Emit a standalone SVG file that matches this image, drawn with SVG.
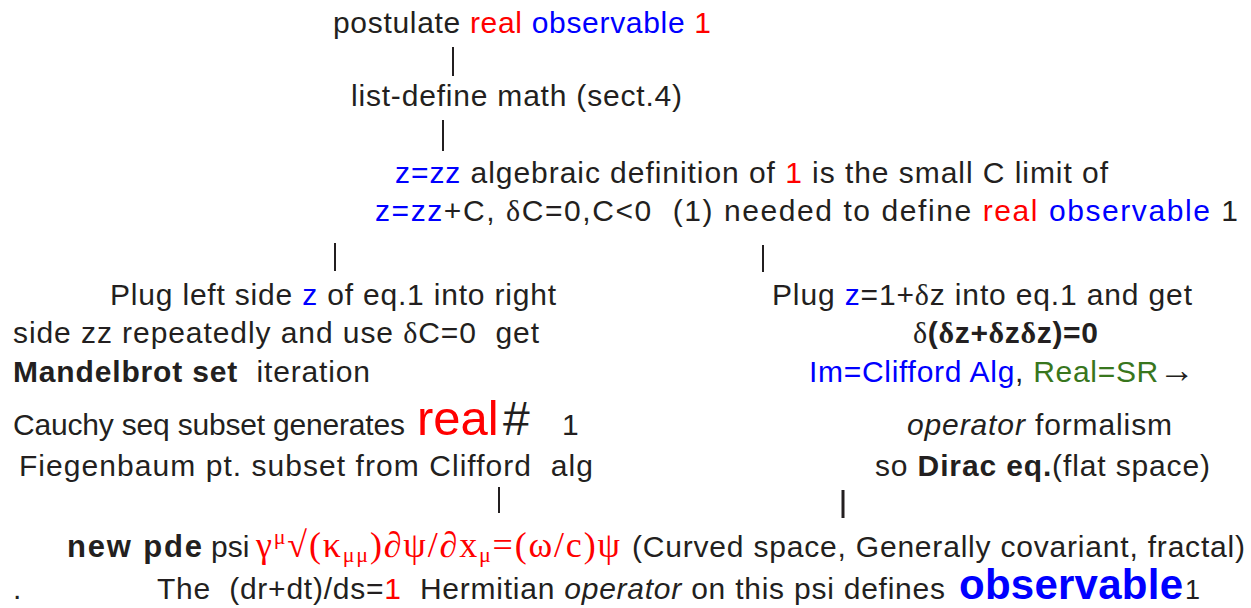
<svg xmlns="http://www.w3.org/2000/svg" width="1251" height="608" viewBox="0 0 1251 608">
<style>
text{font-family:"Liberation Sans",Arial,sans-serif;font-size:30px;fill:#231f20}
.r{fill:#ff0000}.b{fill:#0000ff}.g{fill:#38761d}.k{fill:#231f20}
.bd{font-weight:bold}.it{font-style:italic}
.sf{font-family:"Liberation Serif","Times New Roman",serif}
#connectors line{stroke:#231f20;stroke-width:2}
</style>
<rect width="1251" height="608" fill="#ffffff"/>
<g id="connectors">
<line x1="453" y1="47" x2="453" y2="76"/>
<line x1="443" y1="120" x2="443" y2="151"/>
<line x1="335" y1="243" x2="335" y2="271"/>
<line x1="763" y1="245" x2="763" y2="272"/>
<line x1="499" y1="487" x2="499" y2="513"/>
<line x1="843" y1="490" x2="843" y2="518" style="stroke-width:3"/>
</g>
<g id="postulate">
<text x="333" y="33" textLength="378" xml:space="preserve">postulate <tspan class="r">real</tspan> <tspan class="b">observable</tspan> <tspan class="r">1</tspan></text>
</g>
<g id="listdefine">
<text x="351" y="106" textLength="331" xml:space="preserve">list-define math (sect.4)</text>
</g>
<g id="definition">
<text x="395" y="183" textLength="713" xml:space="preserve"><tspan class="b">z=zz</tspan> algebraic definition of <tspan class="r">1</tspan> is the small C limit of</text>
<text x="375" y="221" textLength="863" xml:space="preserve"><tspan class="b">z=zz</tspan>+C, <tspan class="sf">δ</tspan>C=0,C&lt;0  (1) needed to define <tspan class="r">real</tspan> <tspan class="b">observable</tspan> 1</text>
</g>
<g id="left">
<text x="110" y="305" textLength="446" xml:space="preserve">Plug left side <tspan class="b">z</tspan> of eq.1 into right</text>
<text x="13" y="343" textLength="526" xml:space="preserve">side zz repeatedly and use <tspan class="sf">δ</tspan>C=0  get</text>
<text x="13" y="382" textLength="357" xml:space="preserve"><tspan class="bd">Mandelbrot set</tspan>  iteration</text>
<text x="13" y="435" xml:space="preserve"><tspan textLength="392">Cauchy seq subset generates</tspan><tspan x="417" class="r" font-size="49">real</tspan><tspan x="503" font-size="48">#</tspan><tspan x="562">1</tspan></text>
<text x="19" y="476" textLength="574" xml:space="preserve">Fiegenbaum pt. subset from Clifford  alg</text>
</g>
<g id="right">
<text x="772" y="305" textLength="420" xml:space="preserve">Plug <tspan class="b">z</tspan>=1+<tspan class="sf">δ</tspan>z into eq.1 and get</text>
<text x="913" y="343" textLength="185" xml:space="preserve"><tspan class="sf">δ</tspan><tspan class="bd">(<tspan class="sf">δ</tspan>z+<tspan class="sf">δ</tspan>z<tspan class="sf">δ</tspan>z)=0</tspan></text>
<text x="809" y="382" textLength="386" xml:space="preserve"><tspan class="b">Im=Clifford Alg</tspan>, <tspan class="g">Real=SR</tspan><tspan class="sf" font-size="36">→</tspan></text>
<text x="907" y="435" textLength="265" xml:space="preserve"><tspan class="it">operator</tspan> formalism</text>
<text x="875" y="476" textLength="335" xml:space="preserve">so <tspan class="bd">Dirac eq.</tspan>(flat space)</text>
</g>
<g id="pde">
<text x="67" y="557" textLength="135" class="bd" style="font-size:31px">new pde</text>
<text x="211" y="557">psi</text>
<text x="256" y="557" textLength="364" class="sf r" style="font-size:36px">γ<tspan font-size="22" dy="-13">μ</tspan><tspan dy="13">√(κ</tspan><tspan font-size="22" dy="5">μμ</tspan><tspan dy="-5">)∂ψ/∂x</tspan><tspan font-size="22" dy="5">μ</tspan><tspan dy="-5">=(ω/c)ψ</tspan></text>
<text x="632" y="557" textLength="613">(Curved space, Generally covariant, fractal)</text>
</g>
<g id="observable">
<text x="13" y="599">.</text>
<text x="157" y="599" textLength="788" xml:space="preserve">The  (dr+dt)/ds=<tspan class="r">1</tspan>  Hermitian <tspan class="it">operator</tspan> on this psi defines</text>
<text x="959" y="599"><tspan class="b bd" textLength="224" style="font-size:42px">observable</tspan><tspan x="1185" style="font-size:27px">1</tspan></text>
</g>
</svg>
